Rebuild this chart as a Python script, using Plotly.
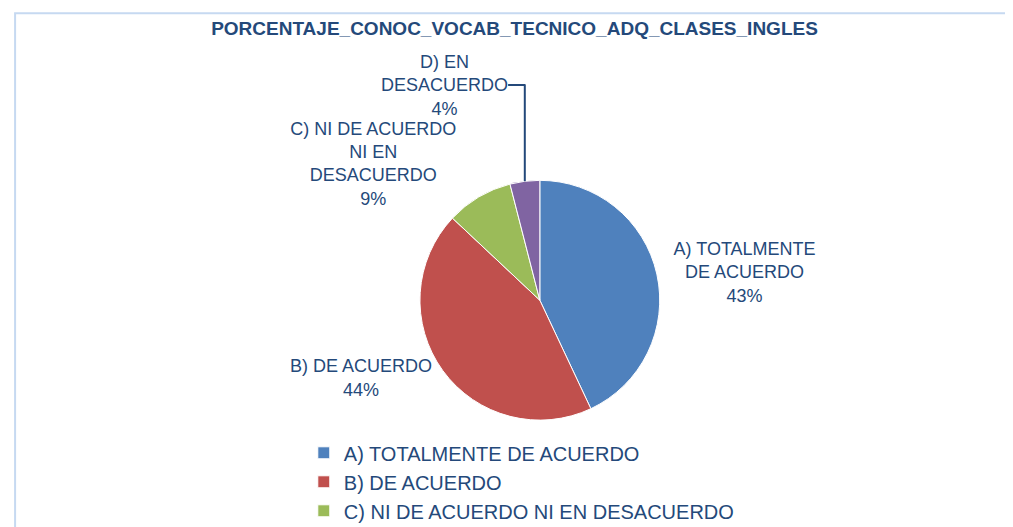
import plotly.graph_objects as go

categories = ["A) TOTALMENTE DE ACUERDO", "B) DE ACUERDO",
              "C) NI DE ACUERDO NI EN DESACUERDO", "D) EN DESACUERDO"]
label_text = ["A) TOTALMENTE<br>DE ACUERDO", "B) DE ACUERDO",
              "C) NI DE ACUERDO<br>NI EN<br>DESACUERDO", "D) EN<br>DESACUERDO"]
values = [43, 44, 9, 4]
colors = ["#4F81BD", "#C0504D", "#9BBB59", "#8064A2"]

text_color = "#24497A"
font_family = "Liberation Sans Narrow, Arial Narrow, sans-serif"
texts = [f"{t}<br>{v}%" for t, v in zip(label_text, values)]

fig = go.Figure(go.Pie(
    labels=categories,
    values=values,
    text=texts,
    textinfo="text",
    textposition="outside",
    sort=False,
    direction="clockwise",
    rotation=0,
    marker=dict(colors=colors, line=dict(color="white", width=1)),
    outsidetextfont=dict(family=font_family, size=18, color=text_color),
    domain=dict(x=[0.25, 0.80], y=[0.218, 0.673]),
))

fig.update_layout(
    width=1013, height=527,
    margin=dict(l=0, r=0, t=0, b=0, autoexpand=False),
    paper_bgcolor="white",
    title=dict(text="<b>PORCENTAJE_CONOC_VOCAB_TECNICO_ADQ_CLASES_INGLES</b>",
               x=0.5, xanchor="center", y=0.962, yanchor="middle",
               font=dict(family=font_family, size=19, color=text_color)),
    legend=dict(x=0.292, xanchor="left", y=0.193, yanchor="top",
                yref="container", xref="container",
                font=dict(family=font_family, size=20, color=text_color),
                tracegroupgap=0, itemwidth=30),
    shapes=[dict(type="rect", xref="paper", yref="paper", x0=0.007, x1=1.2, y0=0.004, y1=0.99,
                 line=dict(color="#C6D9F1", width=2))],
)

fig.write_html("out.html")
